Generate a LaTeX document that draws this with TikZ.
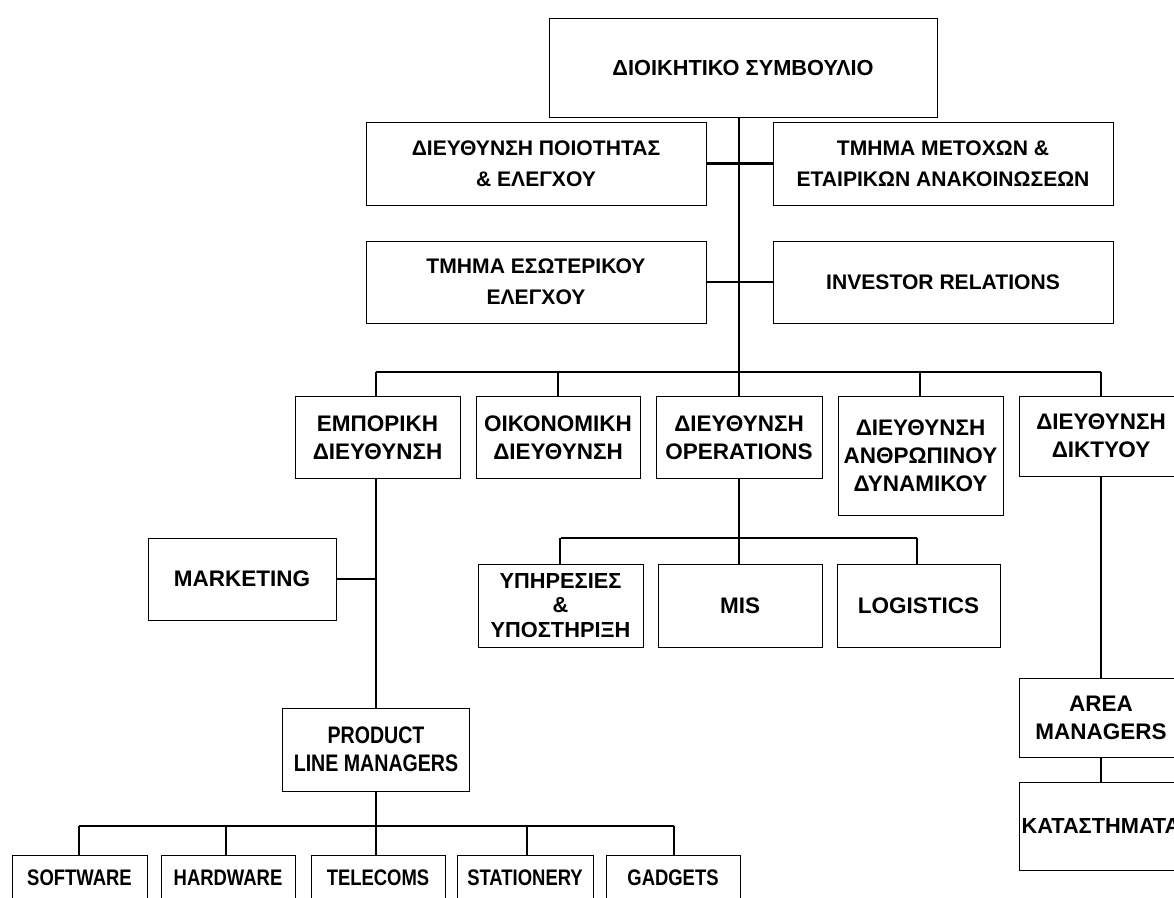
\documentclass[tikz,border=0pt]{standalone}
\usepackage{fontspec}
\setmainfont{Liberation Sans}
\newfontfamily\narrowsf[FakeStretch=0.82]{Liberation Sans}
\usetikzlibrary{positioning,calc}

\begin{document}
\begin{tikzpicture}[x=0.025cm,y=-0.025cm,
    box/.style={draw,line width=0.7pt,align=center,inner sep=2pt,
      font=\bfseries\fontsize{16}{20}\selectfont},
    staff/.style={box,font=\bfseries\fontsize{15}{22}\selectfont},
    cond/.style={box,font=\narrowsf\bfseries\fontsize{16}{20}\selectfont},
    wh/.style 2 args={minimum width=#1*0.025cm,minimum height=#2*0.025cm},
    leaf/.style={cond,anchor=north,minimum height=0pt,text height=19.3pt,text depth=60pt},
    link/.style={line width=1.5pt}]
    \useasboundingbox (0,0) rectangle (1174,897);
    % board and staff units
    \node[staff,wh={388}{99},font=\bfseries\fontsize{15.5}{22}\selectfont] (board) at (743,67.5) {ΔΙΟΙΚΗΤΙΚΟ ΣΥΜΒΟΥΛΙΟ};
    \node[staff,wh={340}{83}] (quality) at (536,163.5) {ΔΙΕΥΘΥΝΣΗ ΠΟΙΟΤΗΤΑΣ\\ \& ΕΛΕΓΧΟΥ};
    \node[staff,wh={340}{83}] (shares) at (943,163.5) {ΤΜΗΜΑ ΜΕΤΟΧΩΝ \&\\ ΕΤΑΙΡΙΚΩΝ ΑΝΑΚΟΙΝΩΣΕΩΝ};
    \node[staff,wh={340}{82}] (audit) at (536,282) {ΤΜΗΜΑ ΕΣΩΤΕΡΙΚΟΥ\\ ΕΛΕΓΧΟΥ};
    \node[staff,wh={340}{82}] (investor) at (943,282) {INVESTOR RELATIONS};
    % directorates
    \node[box,wh={165}{82}] (commercial) at (377.5,437.5) {ΕΜΠΟΡΙΚΗ\\ ΔΙΕΥΘΥΝΣΗ};
    \node[box,wh={164}{82}] (finance) at (558,437.5) {ΟΙΚΟΝΟΜΙΚΗ\\ ΔΙΕΥΘΥΝΣΗ};
    \node[box,wh={166}{82}] (operations) at (739,437.5) {ΔΙΕΥΘΥΝΣΗ\\ OPERATIONS};
    \node[box,wh={165}{119}] (hr) at (920.5,455.5) {ΔΙΕΥΘΥΝΣΗ\\ ΑΝΘΡΩΠΙΝΟΥ\\ ΔΥΝΑΜΙΚΟΥ};
    \node[box,wh={164}{80}] (network) at (1101,436) {ΔΙΕΥΘΥΝΣΗ\\ ΔΙΚΤΥΟΥ};
    % lower levels
    \node[box,wh={188}{82}] (marketing) at (242,579) {MARKETING};
    \node[cond,wh={187}{83},font=\narrowsf\bfseries\fontsize{17}{20}\selectfont] (plm) at (376,749.5) {PRODUCT\\ LINE MANAGERS};
    \node[box,wh={165}{83},font=\bfseries\fontsize{15.5}{17.7}\selectfont] (services) at (560.5,605.5) {ΥΠΗΡΕΣΙΕΣ\\ \&\\ ΥΠΟΣΤΗΡΙΞΗ};
    \node[box,wh={164}{83}] (mis) at (740,605.5) {MIS};
    \node[box,wh={163}{83}] (logistics) at (918.5,605.5) {LOGISTICS};
    \node[box,wh={164}{79}] (area) at (1101,717.5) {AREA\\ MANAGERS};
    \node[box,wh={164}{88},inner xsep=0pt,font=\bfseries\fontsize{15.5}{20}\selectfont] (stores) at (1101,826) {ΚΑΤΑΣΤΗΜΑΤΑ};
    \node[leaf,minimum width=135*0.025cm] (software) at (79.5,855) {SOFTWARE};
    \node[leaf,minimum width=134*0.025cm] (hardware) at (228,855) {HARDWARE};
    \node[leaf,minimum width=134*0.025cm] (telecoms) at (378,855) {TELECOMS};
    \node[leaf,minimum width=136*0.025cm] (stationery) at (525,855) {STATIONERY};
    \node[leaf,minimum width=134*0.025cm] (gadgets) at (673,855) {GADGETS};
    % connectors
    \coordinate (bus) at (739,372);
    \coordinate (opsbus) at (739,538);
    \coordinate (plmbus) at (376,826);
    \draw[link] (board.south -| bus) -- (bus);
    \draw[link] (quality.east) -- (shares.west);
    \draw[link] (audit.east) -- (investor.west);
    \draw[link] (376,372) -- (network.north |- bus);
    \foreach \n/\x in {commercial/376,finance/558,operations/739,hr/920,network/1101}
      \draw[link] (\x,0 |- \n.north) -- (\x,0 |- bus);
    \draw[link] (376,0 |- commercial.south) -- (plm.north);
    \draw[link] (marketing.east) -- (marketing.east -| plm.north);
    \draw[link] (operations.south) -- (opsbus);
    \draw[link] (services.north |- opsbus) -- (917,538);
    \foreach \n/\x in {services/560,mis/739,logistics/917}
      \draw[link] (\x,0 |- \n.north) -- (\x,0 |- opsbus);
    \draw[link] (network.south) -- (area.north);
    \draw[link] (area.south) -- (stores.north);
    \draw[link] (plm.south) -- (plmbus);
    \draw[link] (79,826) -- (674,826);
    \foreach \n/\x in {software/79,hardware/226,telecoms/376,stationery/527,gadgets/674}
      \draw[link] (\x,0 |- \n.north) -- (\x,0 |- plmbus);
\end{tikzpicture}
\end{document}
